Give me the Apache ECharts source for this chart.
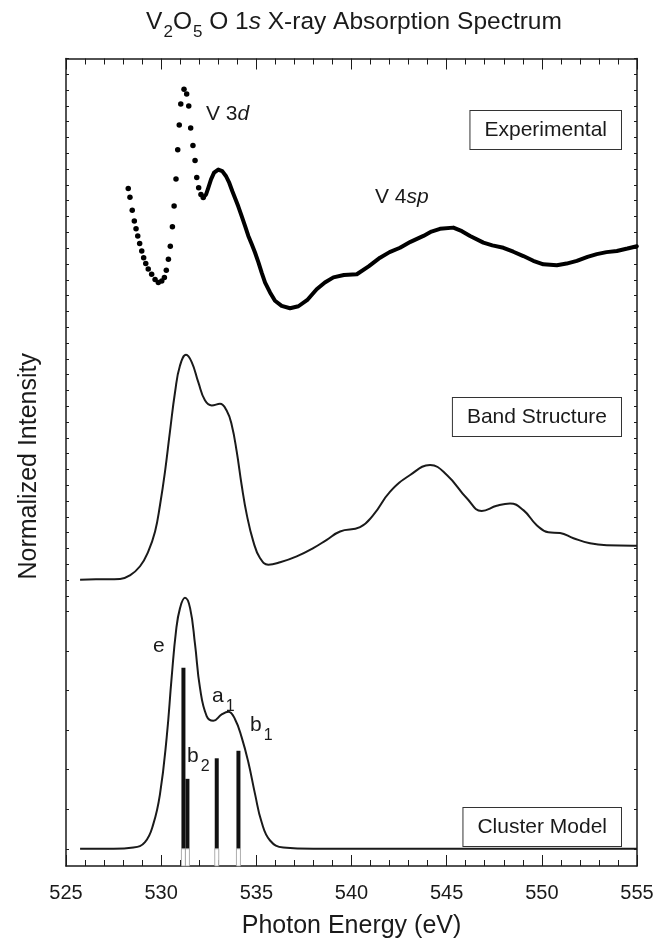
<!DOCTYPE html>
<html><head><meta charset="utf-8">
<script src="https://cdn.jsdelivr.net/npm/echarts@6/dist/echarts.min.js"></script>
<style>html,body{margin:0;padding:0;background:#fff}#c{width:665px;height:944px}</style>
</head><body><div id="c"></div>
<script>
// x-axis tick labels (eV)
const xTickLabels = [525, 530, 535, 540, 545, 550, 555];

// Experimental O 1s XAS, resolved dots [energy eV, normalized intensity (offset)]
const experimentalDots = [
  [528.27,16.71],[528.36,16.49],[528.48,16.16],[528.59,15.89],[528.68,15.69],[528.77,15.51],
  [528.87,15.32],[528.98,15.13],[529.08,14.96],[529.19,14.81],[529.32,14.67],[529.50,14.54],
  [529.68,14.41],[529.85,14.33],[530.03,14.37],[530.17,14.46],[530.27,14.64],[530.38,14.92],
  [530.48,15.25],[530.59,15.74],[530.68,16.27],[530.78,16.95],[530.87,17.69],[530.95,18.32],
  [531.03,18.85],[531.20,19.22],[531.34,19.10],[531.45,18.80],[531.55,18.24],[531.67,17.80],
  [531.78,17.42],[531.87,16.99],[531.97,16.73],[532.09,16.56],[532.21,16.48]
];
// Experimental, densely sampled part (dots merge into a thick beaded trace)
const experimentalDense = [
  [532.21,16.48],[532.36,16.56],[532.48,16.73],[532.62,16.94],[532.78,17.11],[533.00,17.19],
  [533.21,17.15],[533.41,17.02],[533.58,16.85],[533.74,16.64],[533.88,16.47],[534.05,16.26],
  [534.23,16.01],[534.41,15.76],[534.58,15.51],[534.76,15.30],[534.93,15.09],[535.11,14.84],
  [535.28,14.58],[535.46,14.33],[535.72,14.08],[535.98,13.87],[536.33,13.74],[536.77,13.68],
  [537.21,13.73],[537.70,13.90],[538.17,14.16],[538.60,14.33],[539.05,14.46],[539.60,14.52],
  [540.28,14.54],[540.90,14.74],[541.50,14.96],[542.00,15.10],[542.55,15.21],[543.10,15.36],
  [543.78,15.51],[544.20,15.62],[544.65,15.69],[545.35,15.72],[545.80,15.63],[546.23,15.51],
  [546.93,15.34],[547.40,15.27],[547.98,15.21],[548.50,15.11],[549.03,15.00],[549.55,14.88],
  [550.08,14.79],[550.79,14.77],[551.30,14.81],[551.84,14.88],[552.40,14.98],[552.89,15.05],
  [553.40,15.10],[553.94,15.13],[554.50,15.19],[554.99,15.25]
];
// Band structure calculation
const bandStructure = [
  [525.74,6.81],[526.80,6.82],[527.84,6.83],[528.36,6.92],[528.89,7.15],[529.32,7.52],
  [529.68,8.03],[529.94,8.70],[530.20,9.54],[530.46,10.55],[530.73,11.56],[530.99,12.23],
  [531.31,12.50],[531.61,12.31],[531.95,11.81],[532.30,11.35],[532.66,11.22],[533.09,11.26],
  [533.44,11.09],[533.71,10.72],[533.97,10.05],[534.23,9.20],[534.50,8.45],[534.84,7.78],
  [535.19,7.36],[535.63,7.19],[536.25,7.25],[537.12,7.40],[537.99,7.61],[538.70,7.82],
  [539.40,8.03],[540.45,8.14],[541.15,8.45],[542.03,9.04],[543.08,9.46],[544.13,9.71],
  [545.01,9.46],[546.06,8.87],[546.84,8.55],[547.63,8.68],[548.33,8.74],[549.03,8.57],
  [549.73,8.19],[550.34,8.01],[550.96,7.99],[551.66,7.86],[552.53,7.73],[553.41,7.68],
  [554.81,7.67],[555.00,7.67]
];
// Cluster model calculation (broadened)
const clusterModel = [
  [525.74,0.00],[527.50,0.00],[528.54,0.03],[529.15,0.17],[529.59,0.63],[529.94,1.39],
  [530.29,2.82],[530.55,4.33],[530.78,5.51],[530.99,6.09],[531.25,6.35],[531.52,6.09],
  [531.78,5.17],[532.04,4.07],[532.39,3.36],[532.74,3.24],[533.18,3.40],[533.53,3.47],
  [533.88,3.28],[534.23,2.82],[534.58,2.19],[534.93,1.39],[535.28,0.67],[535.72,0.21],
  [536.42,0.03],[538.00,0.00],[540.45,0.00],[555.00,0.00]
];
// Cluster model transitions (stick spectrum): [energy eV, strength]
const clusterSticks = [[531.17,4.58],[531.38,1.77],[532.92,2.29],[534.06,2.48]];

// y tick positions (no labels)
const yTicks = [];
for (let i = 0; i <= 6; i++) yTicks.push(i);
for (let i = 1; i <= 35; i++) yTicks.push(+(6 + i * 0.4).toFixed(2));

const FONT = '"Liberation Sans", Arial, Helvetica, sans-serif';
const INK = '#1a1a1a';

const chart = echarts.init(document.getElementById('c'), null, {renderer: 'canvas'});

const yAxisCommon = {
  type: 'value', min: -0.436, max: 20,
  splitLine: {show: false},
  axisLine: {show: true, onZero: false, lineStyle: {color: INK, width: 1.5}},
  axisTick: {show: true, inside: true, length: 3, customValues: yTicks, lineStyle: {color: INK, width: 1}},
  axisLabel: {show: false}
};
const xAxisCommon = {
  type: 'value', min: 525, max: 555, interval: 5,
  splitLine: {show: false},
  axisLine: {show: true, onZero: false, lineStyle: {color: INK, width: 1.5}},
  axisTick: {show: true, inside: true, length: 11, lineStyle: {color: INK, width: 1}},
  minorTick: {show: true, splitNumber: 5, length: 6, lineStyle: {color: INK, width: 1}}
};

function boxText(text, top) {
  return {
    type: 'text', right: 43, top: top, z: 100,
    style: {
      text: text, font: '21px ' + FONT, fill: INK,
      backgroundColor: '#fff', borderColor: '#333', borderWidth: 1,
      padding: [9, 14, 8, 14]
    }
  };
}
const richLabel = {
  n: {fontSize: 21, fontFamily: FONT, fill: INK},
  i: {fontSize: 21, fontFamily: FONT, fontStyle: 'italic', fill: INK},
  s: {fontSize: 16, fontFamily: FONT, fill: INK, padding: [20, 0, 0, 2]}
};
function label(rich, x, y) {
  return {type: 'text', left: x, top: y, z: 100,
    style: {text: rich, font: '21px ' + FONT, fill: INK, rich: richLabel}};
}

chart.setOption({
  animation: false,
  backgroundColor: '#fff',
  grid: {left: 66, right: 28, top: 58.5, bottom: 75},
  xAxis: [
    Object.assign({}, xAxisCommon, {
      position: 'bottom',
      name: 'Photon Energy (eV)', nameLocation: 'middle', nameGap: 48,
      nameTextStyle: {fontSize: 25, fontFamily: FONT, color: INK},
      axisLabel: {show: true, margin: 17, fontSize: 20, fontFamily: FONT, color: INK,
        customValues: xTickLabels}
    }),
    Object.assign({}, xAxisCommon, {position: 'top', axisLabel: {show: false}})
  ],
  yAxis: [
    Object.assign({}, yAxisCommon, {
      position: 'left',
      name: 'Normalized Intensity', nameLocation: 'middle', nameGap: 24, nameRotate: 90,
      nameTextStyle: {fontSize: 25, fontFamily: FONT, color: INK, padding: [0, 8, 0, 0]}
    }),
    Object.assign({}, yAxisCommon, {position: 'right'})
  ],
  series: [
    {type: 'scatter', name: 'Experimental', data: experimentalDots, symbol: 'circle', symbolSize: 5.5,
      itemStyle: {color: '#000', opacity: 1}, silent: true},
    {type: 'line', name: 'Experimental (dense)', data: experimentalDense, showSymbol: false,
      smooth: false, lineStyle: {color: '#000', width: 4, cap: 'round', join: 'round'}, silent: true},
    {type: 'line', name: 'Band Structure', data: bandStructure, showSymbol: false, smooth: 0.45,
      lineStyle: {color: INK, width: 2}, silent: true},
    {type: 'line', name: 'Cluster Model', data: clusterModel, showSymbol: false, smooth: 0.45,
      lineStyle: {color: INK, width: 2}, silent: true},
    {type: 'custom', name: 'Transitions', data: clusterSticks, silent: true, z: 5,
      renderItem: function (params, api) {
        const e = api.value(0), v = api.value(1);
        const top = api.coord([e, v]);
        const base = api.coord([e, 0]);
        const cs = params.coordSys;
        const bottom = cs.y + cs.height;
        const w = 4;
        return {type: 'group', children: [
          {type: 'rect', shape: {x: top[0] - w / 2, y: top[1], width: w, height: base[1] - top[1]},
            style: {fill: '#111'}},
          {type: 'rect', shape: {x: base[0] - w / 2, y: base[1], width: w, height: bottom - base[1]},
            style: {fill: '#fff', stroke: '#999', lineWidth: 0.8}}
        ]};
      }}
  ],
  graphic: [
    {type: 'text', x: 354, y: 22, z: 100,
      style: {
        text: '{n|V}{s|2}{n|O}{s|5}{n| O 1}{i|s}{n| X-ray Absorption Spectrum}',
        align: 'center', verticalAlign: 'middle', fill: INK,
        rich: {
          n: {fontSize: 24.5, fontFamily: FONT, fill: INK},
          i: {fontSize: 24.5, fontFamily: FONT, fontStyle: 'italic', fill: INK},
          s: {fontSize: 17, fontFamily: FONT, fill: INK, padding: [20, 0, 0, 1]}
        }
      }},
    boxText('Experimental', 110),
    boxText('Band Structure', 397),
    boxText('Cluster Model', 807),
    label('{n|V 3}{i|d}', 206, 104),
    label('{n|V 4}{i|sp}', 375, 187),
    label('{n|e}', 153, 636),
    label('{n|a}{s|1}', 212, 686),
    label('{n|b}{s|1}', 250, 715),
    label('{n|b}{s|2}', 187, 746)
  ]
});
</script>
</body></html>
